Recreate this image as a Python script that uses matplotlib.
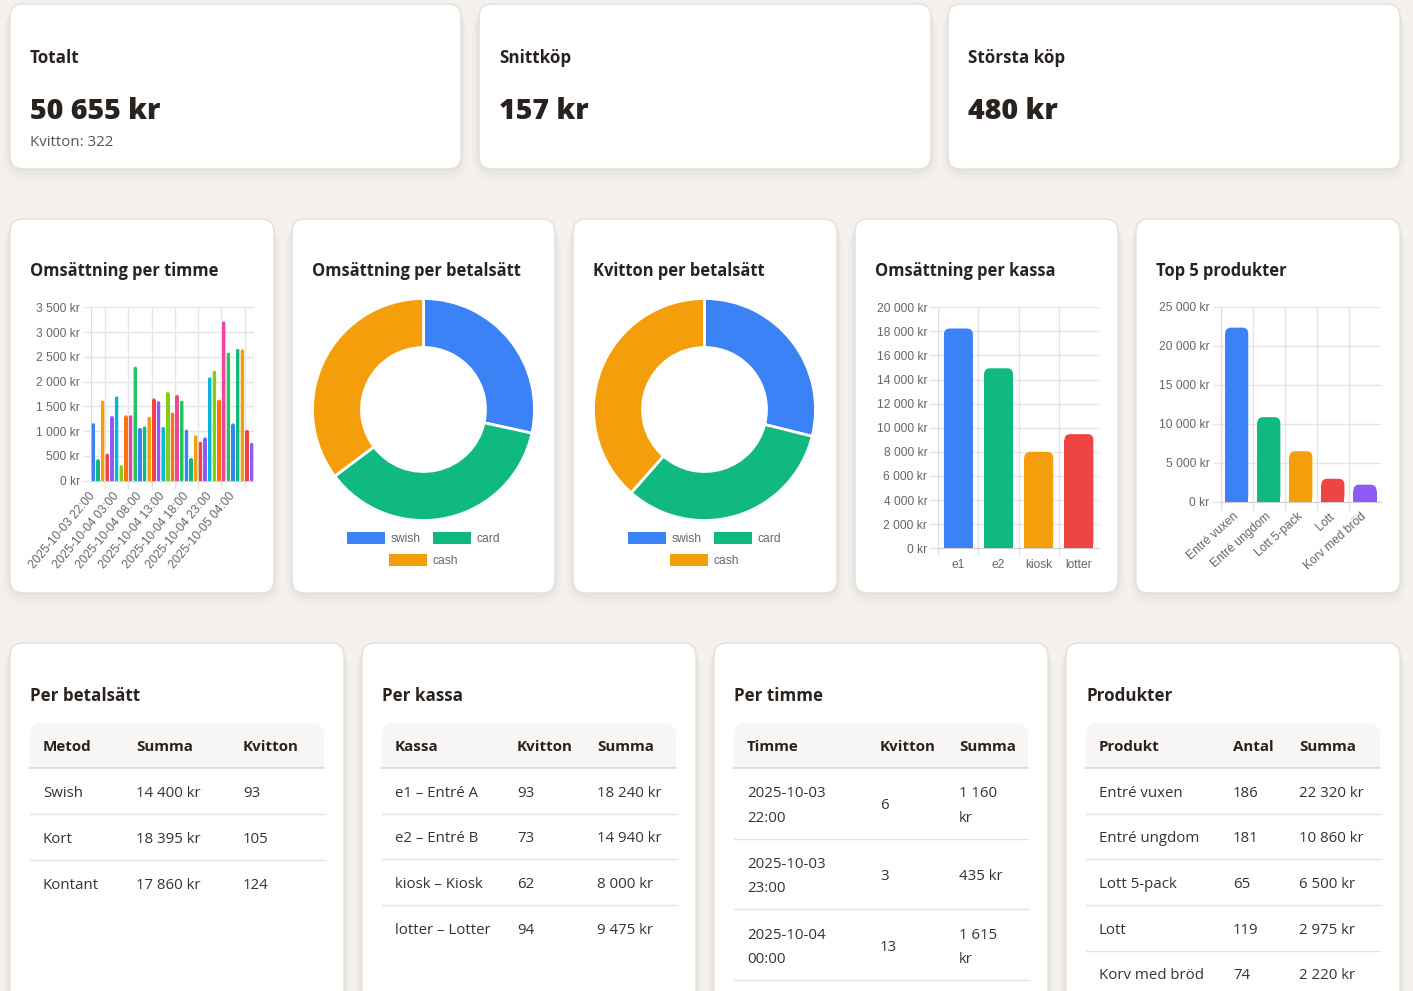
import numpy as np
import pandas as pd
import matplotlib
matplotlib.use('Agg')
import matplotlib.pyplot as plt
from matplotlib.patches import FancyBboxPatch, Rectangle
from matplotlib.ticker import FuncFormatter, FixedLocator

W, H = 1413, 991
UI = ['Open Sans', 'DejaVu Sans']
CH = ['Liberation Sans', 'DejaVu Sans']
PT = 0.72  # px -> pt at dpi 100

# ---- data ----
total_sum = 50655
total_receipts = 322
avg_purchase = 157
max_purchase = 480

hours = list(pd.date_range('2025-10-03 22:00', periods=35, freq='h').strftime('%Y-%m-%d %H:%M'))
hour_sums = [1160, 435, 1615, 545, 1305, 1700, 310, 1320, 1320, 2300,
             1065, 1095, 1290, 1660, 1605, 1085, 1790, 1375, 1730, 1615,
             1030, 460, 915, 785, 875, 2085, 2220, 1635, 3215, 2585,
             1155, 2660, 2650, 1025, 765]
hour_receipts = [6, 3, 13]

methods = ['swish', 'card', 'cash']
method_names = ['Swish', 'Kort', 'Kontant']
method_sums = [14400, 18395, 17860]
method_receipts = [93, 105, 124]

registers = ['e1', 'e2', 'kiosk', 'lotter']
register_names = ['e1 – Entré A', 'e2 – Entré B', 'kiosk – Kiosk', 'lotter – Lotter']
register_receipts = [93, 73, 62, 94]
register_sums = [18240, 14940, 8000, 9475]

products = ['Entré vuxen', 'Entré ungdom', 'Lott 5-pack', 'Lott', 'Korv med bröd']
product_qty = [186, 181, 65, 119, 74]
product_sums = [22320, 10860, 6500, 2975, 2220]

palette = ['#3b82f6', '#10b981', '#f59e0b', '#ef4444', '#8b5cf6',
           '#06b6d4', '#84cc16', '#f97316', '#ec4899', '#22c55e']

DARK = '#2a221e'
GRID = '#e5e5e5'


def kr(v):
    return f"{v:,.0f}".replace(',', ' ') + ' kr'


fig = plt.figure(figsize=(W / 100, H / 100), dpi=100)
fig.patch.set_facecolor('#f3f0ed')
bg = fig.add_axes([0, 0, 1, 1])
bg.set_xlim(0, W)
bg.set_ylim(H, 0)
bg.axis('off')


def card(x0, y0, x1, y1):
    for s, a in [(14, 0.010), (10, 0.014), (6, 0.02), (3, 0.028)]:
        bg.add_patch(FancyBboxPatch((x0 - s / 2, y0 + s / 2), x1 - x0 + s, y1 - y0 + s / 2,
                                    boxstyle='round,pad=0,rounding_size=%d' % (13 + s),
                                    fc='#6b5a4a', ec='none', alpha=a))
    bg.add_patch(FancyBboxPatch((x0, y0), x1 - x0, y1 - y0,
                                boxstyle='round,pad=0,rounding_size=13',
                                fc='white', ec='#e5dfd9', lw=1))


def txt(x, y, s, px, bold=False, color=DARK, ha='left', fam=UI, weight=None):
    w = weight if weight else ('bold' if bold else 'normal')
    if bold and weight is None:
        px = px * 0.92
    bg.text(x, y + 0.15 * px, s, fontsize=px * PT, family=fam, weight=w,
            color=color, ha=ha, va='center')


def pxax(x0, y0, x1, y1):
    return fig.add_axes([x0 / W, 1 - y1 / H, (x1 - x0) / W, (y1 - y0) / H])


# ---- row 1: KPI cards ----
kpis = [('Totalt', kr(total_sum), f'Kvitton: {total_receipts}'),
        ('Snittköp', kr(avg_purchase), None),
        ('Största köp', kr(max_purchase), None)]
for (x0, x1), (t, v, sub) in zip([(10, 461), (479, 931), (948, 1400)], kpis):
    card(x0, 4, x1, 169)
    txt(x0 + 20, 55, t, 18.5, True)
    txt(x0 + 20, 107, v, 28.5, weight='heavy')
    if sub:
        txt(x0 + 20, 140, sub, 15, color='#555555')

# ---- row 2: chart cards ----
chart_titles = ['Omsättning per timme', 'Omsättning per betalsätt', 'Kvitton per betalsätt',
                'Omsättning per kassa', 'Top 5 produkter']
for (x0, x1), t in zip([(10, 274), (292, 555), (573, 837), (855, 1118), (1136, 1400)], chart_titles):
    card(x0, 219, x1, 593)
    txt(x0 + 20, 269, t, 18, True)


def bar_chart(box, values, colors, ymax, step, radius, labels, label_idx, rot,
              grid_x, bar_frac=0.72):
    x0, y0, x1, y1 = box
    ax = pxax(*box)
    n = len(values)
    ax.set_xlim(-0.5, n - 0.5)
    ax.set_ylim(0, ymax)
    ax.set_facecolor('none')
    ppx = (x1 - x0) / n
    ppy = (y1 - y0) / ymax
    ry = radius / ppy
    xs = np.arange(n)
    ax.bar(xs, [max(v - ry, 0) for v in values], width=bar_frac, color=colors, zorder=3)
    if radius > 0:
        for i, v in enumerate(values):
            ax.add_patch(FancyBboxPatch((i - bar_frac / 2, 0), bar_frac, v,
                                        boxstyle='round,pad=0,rounding_size=%f' % (radius / ppx),
                                        mutation_aspect=ppx / ppy, fc=colors[i], ec='none', zorder=3))
    ax.set_yticks(np.arange(0, ymax + 1, step))
    ax.yaxis.set_major_formatter(FuncFormatter(lambda v, p: kr(v)))
    ax.tick_params(axis='y', length=8 * PT, width=1, color=GRID, labelsize=12 * PT,
                   labelcolor='#666666', pad=3 * PT)
    ax.grid(axis='y', color=GRID, lw=1, zorder=0)
    ax.set_xticks(label_idx)
    ax.set_xticklabels([labels[i] for i in label_idx], family=CH)
    ax.tick_params(axis='x', which='major', length=0, labelsize=12 * PT,
                   labelcolor='#666666', pad=(13 if rot else 11) * PT)
    ax.xaxis.set_minor_locator(FixedLocator(grid_x))
    ax.tick_params(axis='x', which='minor', length=8 * PT, width=1, color=GRID)
    ax.grid(axis='x', which='minor', color=GRID, lw=1, zorder=0)
    for lab in ax.get_yticklabels():
        lab.set_family(CH)
    if rot:
        for lab in ax.get_xticklabels():
            lab.set_rotation(rot)
            lab.set_ha('right')
            lab.set_va('center')
            lab.set_rotation_mode('anchor')
    for s in ['top', 'right']:
        ax.spines[s].set_visible(False)
    ax.spines['left'].set_color('#dcdcdc')
    ax.spines['bottom'].set_color('#d0d0d0')
    return ax


# hourly
hour_colors = [palette[i % len(palette)] for i in range(len(hour_sums))]
bar_chart((91, 307.3, 254, 480.7), hour_sums, hour_colors, 3500, 500, 1.5,
          hours, list(range(0, 35, 5)), 50, [2.5 + 5 * k for k in range(7)])

# registers
bar_chart((938.3, 307.3, 1099, 548.3), register_sums, palette[:4], 20000, 2000, 6,
          registers, list(range(4)), 0, [-0.5, 0.5, 1.5, 2.5])

# products
bar_chart((1220.7, 306.7, 1381, 502), product_sums, palette[:5], 25000, 5000, 6,
          products, list(range(5)), 42, [-0.5, 0.5, 1.5, 2.5, 3.5])


# donuts
def donut(cx, cy, values):
    r = 111
    ax = pxax(cx - r, cy - r, cx + r, cy + r)
    ax.pie(values, startangle=90, counterclock=False, colors=palette[:3], radius=1,
           wedgeprops=dict(width=49 / 111, edgecolor='white', linewidth=2))
    ax.set_xlim(-1, 1)
    ax.set_ylim(-1, 1)
    ax.axis('off')
    # legend: two on first row, one on second
    items = [(-77, 538), (9, 538), (-35, 560)]
    for (dx, y), lab, col in zip(items, methods, palette[:3]):
        bg.add_patch(Rectangle((cx + dx, y - 6), 38, 12, fc=col, ec='none'))
        bg.text(cx + dx + 44, y + 1, lab, fontsize=12 * PT, family=CH, color='#666666',
                ha='left', va='center')


donut(423.5, 409.5, method_sums)
donut(704.5, 409.5, method_receipts)


# ---- row 3: tables ----
def table(x0, x1, title, heads, col_x, rows, row_h=46, more=False):
    card(x0, 643, x1, 1010)
    txt(x0 + 20, 693, title, 18.5, True)
    left, right = x0 + 20, x1 - 20
    bg.add_patch(FancyBboxPatch((left, 723), right - left, 45,
                                boxstyle='round,pad=0,rounding_size=12', fc='#f8f6f4', ec='none'))
    bg.add_patch(Rectangle((left, 745), right - left, 23, fc='#f8f6f4', ec='none'))
    for h, cx in zip(heads, col_x):
        txt(cx, 745, h, 16.5, True)
    bg.plot([left, right], [768, 768], color='#e0dad4', lw=1.3)
    y = 768
    for k, row in enumerate(rows):
        mid = y + row_h / 2
        for val, cx in zip(row, col_x):
            if '\n' in val:
                a, b = val.split('\n')
                txt(cx, mid - 12, a, 15, color='#333333')
                txt(cx, mid + 12.5, b, 15, color='#333333')
            else:
                txt(cx, mid, val, 15, color='#333333')
        y += row_h
        if k < len(rows) - 1 or more:
            bg.plot([left, right], [y, y], color='#e6e2de', lw=1)


def wrap_kr(v):
    s = kr(v)
    return s.replace(' kr', '\nkr') if v >= 1000 else s


table(10, 344, 'Per betalsätt', ['Metod', 'Summa', 'Kvitton'], [43, 136, 243],
      [[n, kr(s), str(c)] for n, s, c in zip(method_names, method_sums, method_receipts)])
table(362, 696, 'Per kassa', ['Kassa', 'Kvitton', 'Summa'], [395, 517, 597],
      [[n, str(c), kr(s)] for n, c, s in zip(register_names, register_receipts, register_sums)],
      row_h=45.7)
table(714, 1048, 'Per timme', ['Timme', 'Kvitton', 'Summa'], [747, 880, 959],
      [[h.replace(' ', '\n'), str(c), wrap_kr(s)]
       for h, c, s in zip(hours[:3], hour_receipts, hour_sums[:3])],
      row_h=70.7, more=True)
table(1066, 1400, 'Produkter', ['Produkt', 'Antal', 'Summa'], [1099, 1233, 1299],
      [[p, str(q), kr(s)] for p, q, s in zip(products, product_qty, product_sums)],
      row_h=45.7)

fig.savefig('out.png', dpi=100, facecolor=fig.get_facecolor())
